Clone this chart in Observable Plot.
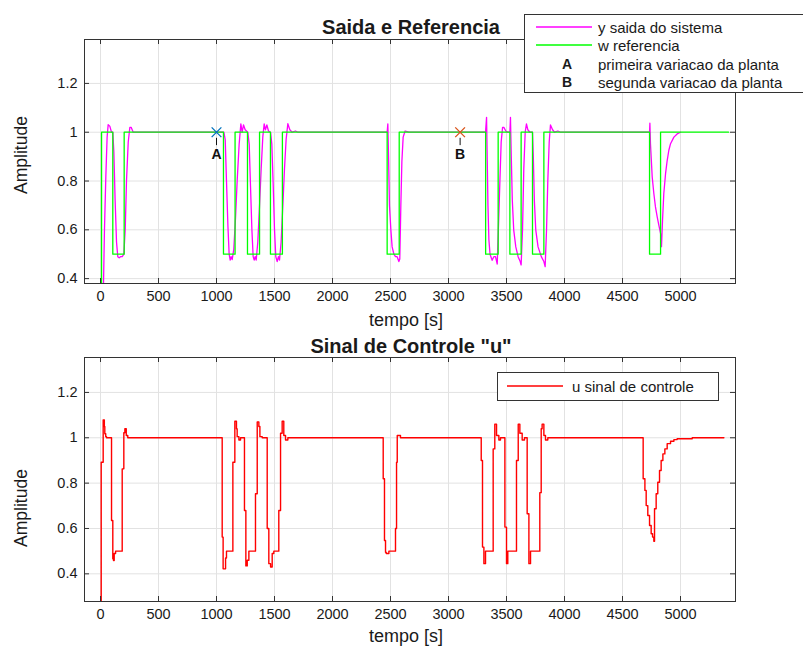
<!DOCTYPE html>
<html><head><meta charset="utf-8">
<script src="https://cdn.jsdelivr.net/npm/d3@7"></script>
<script src="https://cdn.jsdelivr.net/npm/@observablehq/plot@0.6"></script>
<style>
body{margin:0;background:#fff;}
#wrap{position:relative;width:803px;height:646px;overflow:hidden;background:#fff;font-family:"Liberation Sans",Arial,sans-serif;color:#1a1a1a;}
.panel{position:absolute;left:0;}
</style></head><body><div id="wrap"></div>
<script>
// ---- data ----
const xTicks = [0, 500, 1000, 1500, 2000, 2500, 3000, 3500, 4000, 4500, 5000];
const yTicks = [0.4, 0.6, 0.8, 1, 1.2];

// w referencia (step signal) [tempo, valor]
const referenciaW = [[0,0],[9,1],[106,0.5],[204,1],[1060,0.5],[1160,1],[1267,0.5],[1371,1],[1465,0.5],[1568,1],
  [2471,0.5],[2575,1],[3320,0.5],[3428,1],[3529,0.5],[3626,1],[3724,0.5],[3822,1],[4733,0.5],[4828,1],[5414,1]];

// y saida do sistema [tempo, valor]
const saidaY = [[0,0],[12,0.1],[23,0.3],[34,0.6],[46,0.82],[57,0.98],[66,1.031],[80,1.025],[95,1.0],[106,1.0],
  [115,0.92],[126,0.72],[138,0.55],[149,0.49],[161,0.485],[172,0.49],[187,0.49],[201,0.5],[213,0.6],[224,0.8],
  [239,0.96],[253,1.02],[264,1.02],[282,1.0],
  [1063,1.0],[1075,0.97],[1086,0.8],[1098,0.62],[1109,0.5],[1118,0.476],[1126,0.49],[1135,0.478],[1149,0.52],
  [1164,0.65],[1178,0.8],[1195,0.95],[1210,1.034],[1221,1.0],[1233,1.03],[1247,1.01],[1270,1.0],[1282,0.95],
  [1293,0.78],[1305,0.6],[1316,0.49],[1325,0.476],[1333,0.49],[1342,0.476],[1356,0.55],[1371,0.7],[1385,0.85],
  [1399,0.98],[1411,1.034],[1422,1.01],[1434,1.03],[1448,1.005],[1466,1.0],[1477,0.95],[1489,0.78],[1500,0.6],
  [1511,0.49],[1523,0.47],[1534,0.49],[1543,0.476],[1557,0.55],[1572,0.7],[1586,0.85],[1600,0.97],[1615,1.035],
  [1632,1.01],[1652,1.0],[1681,1.005],[1701,1.0],
  [2471,1.0],[2477,1.034],[2483,0.9],[2491,0.7],[2503,0.6],[2514,0.53],[2529,0.5],[2543,0.49],[2557,0.49],
  [2572,0.47],[2580,0.48],[2589,0.7],[2598,0.88],[2609,0.98],[2626,1.005],[2658,1.0],
  [3319,1.0],[3328,1.061],[3334,0.88],[3340,0.7],[3348,0.56],[3358,0.5],[3376,0.475],[3391,0.49],[3405,0.49],
  [3420,0.46],[3431,0.62],[3443,0.8],[3454,0.96],[3466,1.02],[3477,1.02],[3494,1.005],[3511,1.0],[3529,1.0],
  [3534,1.061],[3541,0.9],[3550,0.72],[3562,0.6],[3580,0.53],[3600,0.49],[3618,0.47],[3626,0.456],[3638,0.6],[3649,0.85],
  [3661,1.0],[3672,1.034],[3684,1.01],[3701,1.0],[3724,1.0],[3731,0.9],[3740,0.72],[3752,0.6],[3772,0.53],
  [3800,0.49],[3822,0.47],[3833,0.449],[3845,0.6],[3856,0.8],[3868,0.96],[3879,1.03],[3897,1.01],[3914,1.0],[3943,1.005],
  [3966,1.0],
  [4733,1.0],[4736,1.037],[4741,0.953],[4756,0.816],[4770,0.749],[4784,0.694],[4799,0.653],[4813,0.619],
  [4828,0.585],[4836,0.531],[4845,0.64],[4856,0.749],[4871,0.83],[4885,0.884],[4899,0.925],[4914,0.953],
  [4943,0.98],[4971,0.993],[5000,1.0]];

// u sinal de controle (staircase) [tempo, valor]
const controleU = [[0,0],[6,0.892],[23,1.079],[33,1.05],[37,1.018],[45,1.005],[52,1.0],[95,0.635],[106,0.466],
  [112,0.459],[118,0.49],[130,0.5],[187,0.863],[201,1.022],[210,1.04],[222,1.01],[235,1.0],
  [1049,0.562],[1057,0.422],[1078,0.47],[1086,0.5],[1141,0.892],[1158,1.073],[1172,1.04],[1178,1.005],[1193,0.99],
  [1207,1.0],[1241,0.679],[1253,0.435],[1265,0.46],[1279,0.5],[1336,0.753],[1351,1.07],[1365,1.05],[1374,1.005],
  [1394,1.0],[1437,0.6],[1451,0.445],[1466,0.43],[1480,0.49],[1494,0.5],[1537,0.679],[1552,1.02],[1566,1.073],
  [1580,1.01],[1595,0.99],[1615,1.0],
  [2437,0.819],[2448,0.547],[2457,0.495],[2463,0.49],[2486,0.5],[2543,0.6],[2552,0.892],[2558,1.01],[2586,1.0],
  [3282,0.9],[3293,0.518],[3305,0.445],[3319,0.5],[3385,0.951],[3399,1.06],[3414,1.01],[3434,0.99],[3448,1.0],
  [3486,0.606],[3500,0.445],[3511,0.5],[3586,0.9],[3601,1.06],[3615,1.02],[3635,0.99],[3655,1.0],
  [3678,0.665],[3693,0.445],[3707,0.5],[3787,0.758],[3799,1.04],[3807,1.06],[3822,1.01],[3836,0.99],[3856,1.0],
  [4678,0.819],[4693,0.768],[4704,0.701],[4718,0.657],[4733,0.613],[4747,0.577],[4759,0.562],[4770,0.544],
  [4776,0.687],[4790,0.753],[4804,0.804],[4819,0.856],[4833,0.9],[4848,0.929],[4865,0.951],[4885,0.974],
  [4914,0.985],[4943,0.992],[4971,0.996],[5101,1.0],[5374,1.0]];

// annotation markers
const markerNames = ["A", "B"];
const markerTimes = [1000, 3100];
const markerValues = [1, 1];
const markerColors = ["#0072BD", "#D95319"];

// texts
const titleTop = "Saida e Referencia";
const titleBottom = "Sinal de Controle \"u\"";
const xLabel = "tempo [s]";
const yLabel = "Amplitude";
const legendTop = ["y saida do sistema", "w referencia", "primeira variacao da planta", "segunda variacao da planta"];
const legendBottom = ["u sinal de controle"];

// ---- layout ----
const W = 803, H = 646, ML = 84, MR = 68;
const innerW = W - ML - MR;
const xDomain = [-138, 5474];
const axisColor = "#333333";
const gridColor = "#e2e2e2";
const FONT = "'Liberation Sans', Arial, sans-serif";
const markers = markerNames.map((n, i) => ({name: n, t: markerTimes[i], v: markerValues[i], color: markerColors[i]}));

function panel({height, marginTop, marginBottom, yDomain, marks}) {
  const innerH = height - marginTop - marginBottom;
  return Plot.plot({
    width: W, height, marginLeft: ML, marginRight: MR, marginTop, marginBottom,
    style: {fontFamily: FONT, fontSize: "14.5px", color: "#1a1a1a", background: "transparent", overflow: "visible"},
    x: {domain: xDomain, ticks: xTicks, tickFormat: d3.format("d"), tickSize: 0, tickPadding: 7, label: null},
    y: {domain: yDomain, ticks: yTicks, tickFormat: d => String(d), tickSize: 0, tickPadding: 7, label: null},
    color: {type: "identity"},
    marks: [
      Plot.ruleX(xTicks, {x: d => d, stroke: gridColor, strokeWidth: 1}),
      Plot.ruleY(yTicks, {y: d => d, stroke: gridColor, strokeWidth: 1}),
      ...marks,
      Plot.ruleX(xTicks, {x: d => d, insetTop: innerH - 5, stroke: axisColor}),
      Plot.ruleX(xTicks, {x: d => d, insetBottom: innerH - 5, stroke: axisColor}),
      Plot.ruleY(yTicks, {y: d => d, insetRight: innerW - 5, stroke: axisColor}),
      Plot.ruleY(yTicks, {y: d => d, insetLeft: innerW - 5, stroke: axisColor}),
      Plot.frame({stroke: axisColor, strokeWidth: 1})
    ]
  });
}

const wrap = document.getElementById("wrap");

const top1 = panel({
  height: 320, marginTop: 39, marginBottom: 37, yDomain: [0.38, 1.38],
  marks: [
    Plot.line(saidaY, {x: d => d[0], y: d => d[1], stroke: "#ff00ff", strokeWidth: 1.3, clip: true}),
    Plot.line(referenciaW, {x: d => d[0], y: d => d[1], stroke: "#00ff00", strokeWidth: 1.3, curve: "step-after", clip: true}),
    Plot.dot(markers, {x: "t", y: "v", symbol: "times", r: 4.5, stroke: "color", strokeWidth: 1.3}),
    // short leader below each marker
    Plot.ruleX(markers, {x: "t", y1: d => d.v - 0.025, y2: d => d.v - 0.055, stroke: "#111", strokeWidth: 1}),
    Plot.text(markers, {x: "t", y: "v", text: "name", dy: 22, fontSize: 14, fontWeight: "bold", fill: "#111"})
  ]
});
const p1 = document.createElement("div"); p1.className = "panel"; p1.style.top = "0px"; p1.appendChild(top1); wrap.appendChild(p1);

const bot = panel({
  height: 326, marginTop: 37, marginBottom: 45, yDomain: [0.278, 1.354],
  marks: [
    Plot.line(controleU, {x: d => d[0], y: d => d[1], stroke: "#ff0000", strokeWidth: 1.4, curve: "step-after", clip: true})
  ]
});
const p2 = document.createElement("div"); p2.className = "panel"; p2.style.top = "320px"; p2.appendChild(bot); wrap.appendChild(p2);

// ---- overlay: titles, axis labels, legends ----
const svg = d3.select(wrap).append("svg")
  .attr("width", W).attr("height", H)
  .style("position", "absolute").style("left", 0).style("top", 0)
  .style("font-family", FONT).style("fill", "#1a1a1a");

function txt(s, x, y, size, opts = {}) {
  const t = svg.append("text").attr("x", x).attr("y", y)
    .attr("font-size", size).attr("dominant-baseline", "central")
    .attr("text-anchor", opts.anchor || "middle").text(s);
  if (opts.bold) t.attr("font-weight", "bold");
  if (opts.rotate) t.attr("transform", `rotate(-90 ${x} ${y})`);
  return t;
}
txt(titleTop, 411, 27, 20, {bold: true});
txt(titleBottom, 411, 346, 20, {bold: true});
txt(xLabel, 406, 320, 18);
txt(xLabel, 406, 636, 18);
txt(yLabel, 21, 155, 17.5, {rotate: true});
txt(yLabel, 21, 508, 17.5, {rotate: true});

function legend(x, y, w, h, rows) {
  svg.append("rect").attr("x", x + 0.5).attr("y", y + 0.5).attr("width", w).attr("height", h)
    .attr("fill", "#fff").attr("stroke", "#333").attr("stroke-width", 1);
  rows.forEach(r => {
    if (r.color) {
      svg.append("line").attr("x1", r.lx).attr("x2", r.lx + r.lw).attr("y1", r.y).attr("y2", r.y)
        .attr("stroke", r.color).attr("stroke-width", 1.4);
    } else {
      txt(r.sym, r.lx + r.lw / 2, r.y, 14, {bold: true});
    }
    txt(r.label, r.tx, r.y + 0.5, 15, {anchor: "start"});
  });
}
legend(524, 14, 300, 78, [
  {color: "#ff00ff", lx: 536, lw: 56, tx: 598, y: 27, label: legendTop[0]},
  {color: "#00ff00", lx: 536, lw: 56, tx: 598, y: 45, label: legendTop[1]},
  {sym: markerNames[0], lx: 536, lw: 62, tx: 598, y: 64, label: legendTop[2]},
  {sym: markerNames[1], lx: 536, lw: 62, tx: 598, y: 82, label: legendTop[3]}
]);
legend(497, 372, 221, 28, [
  {color: "#ff0000", lx: 507, lw: 56, tx: 572, y: 386, label: legendBottom[0]}
]);
</script></body></html>
